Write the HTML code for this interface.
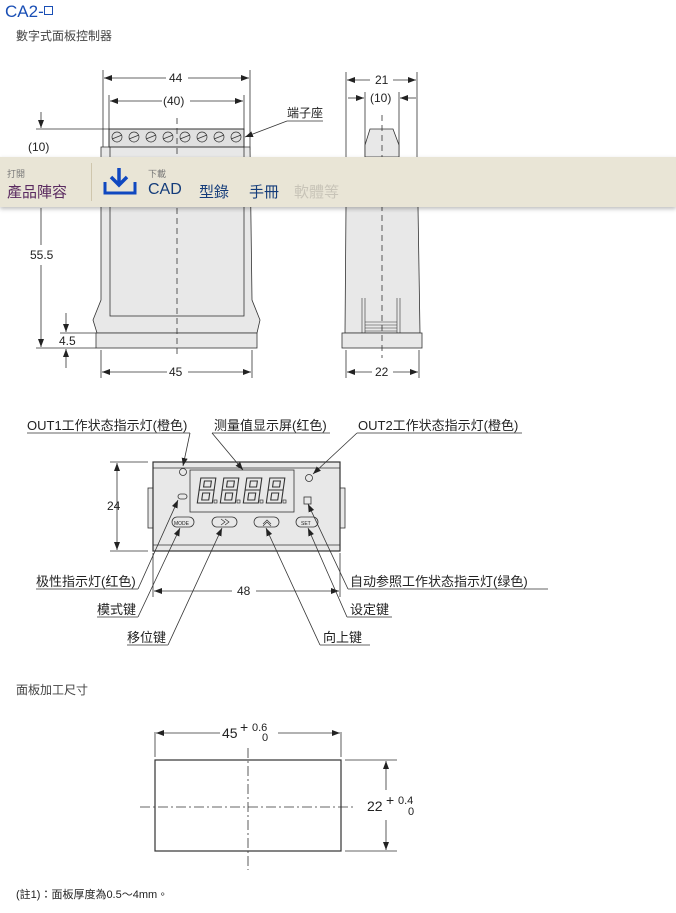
<!DOCTYPE html>
<html><head><meta charset="utf-8"><style>
body{margin:0;width:676px;height:913px;background:#fff;overflow:hidden;position:relative;font-family:"Liberation Sans","Noto Sans CJK TC",sans-serif}
.t{position:absolute;white-space:nowrap}
</style></head><body>
<div class="t" style="left:5px;top:2px;font-size:17px;color:#1a4fb5;">CA2-<span style="font-size:11px;border:1px solid #1a4fb5;display:inline-block;width:7px;height:7px;vertical-align:2px"></span></div>
<div class="t" style="left:16px;top:27px;font-size:12px;color:#444;">數字式面板控制器</div>
<div class="t" style="left:16px;top:681px;font-size:12px;color:#444;">面板加工尺寸</div>
<div class="t" style="left:16px;top:886px;font-size:11px;color:#222;">(註1)：面板厚度為0.5～4mm。</div>

<svg width="676" height="913" style="position:absolute;left:0;top:0" font-family="Liberation Sans, Noto Sans CJK SC, sans-serif" font-size="12" fill="#222">
<defs><marker id="a" markerWidth="8" markerHeight="6" refX="8" refY="3" orient="auto-start-reverse" markerUnits="userSpaceOnUse"><path d="M0,0L8,3L0,6z" fill="#222"/></marker></defs>
<g stroke="#333" stroke-width="0.8" fill="none">
<!-- front view -->
<line x1="103" y1="70" x2="103" y2="150"/><line x1="250" y1="70" x2="250" y2="150"/>
<line x1="109" y1="95" x2="109" y2="129"/><line x1="244" y1="95" x2="244" y2="129"/>
<line x1="104" y1="78" x2="166" y2="78" marker-start="url(#a)"/><line x1="188" y1="78" x2="249" y2="78" marker-end="url(#a)"/>
<line x1="110" y1="101" x2="162" y2="101" marker-start="url(#a)"/><line x1="190" y1="101" x2="243" y2="101" marker-end="url(#a)"/>
<path d="M101,147 L101,300 L93,320 L97,333 L257,333 L260,320 L252,300 L250,147 Z" fill="#e8e8e8" stroke="#333"/>
<rect x="110" y="147" width="134" height="169" fill="#e8e8e8"/>
<rect x="96" y="333" width="161" height="15" fill="#e8e8e8"/>
<rect x="109" y="129" width="135" height="18" fill="#e0e0e0" stroke-width="1"/>
<g stroke-width="0.7">
<circle cx="117" cy="137" r="5"/><circle cx="134" cy="137" r="5"/><circle cx="151" cy="137" r="5"/><circle cx="168" cy="137" r="5"/><circle cx="185" cy="137" r="5"/><circle cx="202" cy="137" r="5"/><circle cx="219" cy="137" r="5"/><circle cx="236" cy="137" r="5"/>
<path d="M112,139L122,135M129,139L139,135M146,139L156,135M163,139L173,135M180,139L190,135M197,139L207,135M214,139L224,135M231,139L241,135"/></g>
<line x1="177" y1="118" x2="177" y2="355" stroke-dasharray="6,4"/>
<line x1="36" y1="129" x2="109" y2="129"/>
<line x1="41" y1="112" x2="41" y2="128" marker-end="url(#a)"/>
<line x1="41" y1="208" x2="41" y2="245"/><line x1="41" y1="265" x2="41" y2="347" marker-end="url(#a)"/>
<line x1="60" y1="333" x2="96" y2="333"/><line x1="36" y1="348" x2="96" y2="348"/>
<line x1="66" y1="313" x2="66" y2="332" marker-end="url(#a)"/><line x1="66" y1="368" x2="66" y2="349" marker-end="url(#a)"/>
<line x1="101" y1="350" x2="101" y2="378"/><line x1="252" y1="350" x2="252" y2="378"/>
<line x1="102" y1="372" x2="167" y2="372" marker-start="url(#a)"/><line x1="188" y1="372" x2="251" y2="372" marker-end="url(#a)"/>
<path d="M287,121L323,121"/><line x1="287" y1="121" x2="245" y2="137" marker-end="url(#a)"/>
<!-- side view -->
<line x1="346" y1="72" x2="346" y2="157"/><line x1="417" y1="72" x2="417" y2="157"/>
<line x1="365" y1="92" x2="365" y2="157"/><line x1="399" y1="92" x2="399" y2="157"/>
<line x1="347" y1="80" x2="370" y2="80" marker-start="url(#a)"/><line x1="393" y1="80" x2="416" y2="80" marker-end="url(#a)"/>
<line x1="348" y1="98" x2="364" y2="98" marker-end="url(#a)"/><line x1="416" y1="98" x2="400" y2="98" marker-end="url(#a)"/>
<path d="M370,129L393,129L399,145L399,157L365,157L365,145Z" fill="#e8e8e8"/>
<path d="M346,207L345,333L420,333L418,207" fill="#e8e8e8"/>
<rect x="342" y="333" width="80" height="15" fill="#e8e8e8"/>
<path d="M362,333L362,298M365,333L365,298M397,333L397,298M400,333L400,298M365,322L397,322M365,325L397,325M365,328L397,328M365,331L397,331" stroke-width="0.6"/>
<line x1="382" y1="115" x2="382" y2="358" stroke-dasharray="6,4"/>
<line x1="346" y1="350" x2="346" y2="378"/><line x1="419" y1="350" x2="419" y2="378"/>
<line x1="347" y1="372" x2="372" y2="372" marker-start="url(#a)"/><line x1="393" y1="372" x2="418" y2="372" marker-end="url(#a)"/>
<!-- panel -->
<rect x="148" y="488" width="6" height="40" fill="#e8e8e8"/><rect x="339" y="488" width="6" height="40" fill="#e8e8e8"/>
<rect x="153" y="462" width="187" height="89" fill="#e8e8e8" stroke-width="1.2"/>
<line x1="153" y1="468" x2="340" y2="468"/><line x1="153" y1="545" x2="340" y2="545"/>
<rect x="190" y="470" width="104" height="42"/>
<circle cx="183" cy="472" r="3.5"/><rect x="178" y="494" width="9" height="5" rx="2.5"/>
<circle cx="309" cy="478" r="3.5"/><rect x="304" y="497" width="7" height="7"/>
<rect x="172" y="517" width="22" height="10" rx="5"/><rect x="212" y="517" width="25" height="10" rx="5"/><rect x="254" y="517" width="25" height="10" rx="5"/><rect x="296" y="517" width="22" height="10" rx="5"/>
<path d="M221,519L225,522L221,525M225,519L229,522L225,525M263,524L267,520L271,524M263,526L267,522L271,526" stroke-width="0.7"/>
<g transform="translate(69,0) skewX(-8)" stroke-width="1.1">
<path d="M199,478h15v12h-15zM199,490h15v13h-15zM203,481h7v6h-7zM203,493h7v7h-7z"/>
<path d="M222,478h15v12h-15zM222,490h15v13h-15zM226,481h7v6h-7zM226,493h7v7h-7z"/>
<path d="M245,478h15v12h-15zM245,490h15v13h-15zM249,481h7v6h-7zM249,493h7v7h-7z"/>
<path d="M268,478h15v12h-15zM268,490h15v13h-15zM272,481h7v6h-7zM272,493h7v7h-7z"/>
</g>
<g stroke-width="0.7"><rect x="214" y="500" width="3" height="3"/><rect x="237" y="500" width="3" height="3"/><rect x="260" y="500" width="3" height="3"/><rect x="283" y="500" width="3" height="3"/></g>
<line x1="110" y1="462" x2="148" y2="462"/><line x1="110" y1="551" x2="148" y2="551"/>
<line x1="117" y1="463" x2="117" y2="550" marker-start="url(#a)" marker-end="url(#a)"/>
<line x1="153" y1="553" x2="153" y2="597"/><line x1="340" y1="553" x2="340" y2="597"/>
<line x1="154" y1="591" x2="232" y2="591" marker-start="url(#a)"/><line x1="256" y1="591" x2="339" y2="591" marker-end="url(#a)"/>
<!-- leaders -->
<path d="M27,433L190,433"/><line x1="190" y1="433" x2="183" y2="466" marker-end="url(#a)"/>
<path d="M212,433L330,433"/><line x1="212" y1="433" x2="243" y2="470" marker-end="url(#a)"/>
<path d="M357,433L522,433"/><line x1="357" y1="433" x2="313" y2="474" marker-end="url(#a)"/>
<path d="M36,589L138,589"/><line x1="138" y1="589" x2="178" y2="500" marker-end="url(#a)"/>
<path d="M97,617L138,617"/><line x1="138" y1="617" x2="180" y2="528" marker-end="url(#a)"/>
<path d="M127,645L168,645"/><line x1="168" y1="645" x2="222" y2="528" marker-end="url(#a)"/>
<path d="M320,645L370,645"/><line x1="320" y1="645" x2="266" y2="528" marker-end="url(#a)"/>
<path d="M347,617L392,617"/><line x1="347" y1="617" x2="308" y2="528" marker-end="url(#a)"/>
<path d="M348,589L548,589"/><line x1="348" y1="589" x2="308" y2="504" marker-end="url(#a)"/>
<!-- cutout -->
<rect x="155" y="760" width="186" height="91" stroke-width="1.2"/>
<line x1="155" y1="732" x2="155" y2="757"/><line x1="341" y1="732" x2="341" y2="757"/>
<line x1="156" y1="733" x2="220" y2="733" marker-start="url(#a)"/><line x1="278" y1="733" x2="340" y2="733" marker-end="url(#a)"/>
<line x1="345" y1="760" x2="397" y2="760"/><line x1="345" y1="851" x2="397" y2="851"/>
<line x1="386" y1="761" x2="386" y2="790" marker-start="url(#a)"/><line x1="386" y1="820" x2="386" y2="850" marker-end="url(#a)"/>
<line x1="248" y1="748" x2="248" y2="870" stroke-dasharray="10,3,2,3"/>
<line x1="140" y1="807" x2="353" y2="807" stroke-dasharray="10,3,2,3"/>
</g>
<g font-size="12">
<text x="169" y="82">44</text><text x="163" y="105">(40)</text><text x="287" y="117">端子座</text>
<text x="28" y="151">(10)</text><text x="30" y="259">55.5</text><text x="59" y="345">4.5</text><text x="169" y="376">45</text>
<text x="375" y="84">21</text><text x="370" y="102">(10)</text><text x="375" y="376">22</text>
<text x="27" y="430" font-size="13">OUT1工作状态指示灯(橙色)</text>
<text x="214" y="430" font-size="13">测量值显示屏(红色)</text>
<text x="358" y="430" font-size="13">OUT2工作状态指示灯(橙色)</text>
<text x="107" y="510">24</text><text x="237" y="595">48</text>
<text x="36" y="586" font-size="13">极性指示灯(红色)</text>
<text x="97" y="614" font-size="13">模式键</text>
<text x="127" y="642" font-size="13">移位键</text>
<text x="323" y="642" font-size="13">向上键</text>
<text x="350" y="614" font-size="13">设定键</text>
<text x="350" y="586" font-size="13">自动参照工作状态指示灯(绿色)</text>
<text x="174" y="525" font-size="5">MODE</text><text x="301" y="525" font-size="5">SET</text>
<text x="222" y="738" font-size="14">45</text><text x="240" y="732" font-size="14">+</text><text x="252" y="731" font-size="11">0.6</text><text x="262" y="741" font-size="11">0</text>
<text x="367" y="811" font-size="14">22</text><text x="386" y="805" font-size="14">+</text><text x="398" y="804" font-size="11">0.4</text><text x="408" y="815" font-size="11">0</text>
</g>
</svg>

<div style="position:absolute;left:0;top:157px;width:676px;height:50px;background:#e9e5d6;box-shadow:0 2px 4px rgba(0,0,0,0.25)">
<div class="t" style="left:7px;top:10px;font-size:9px;color:#777">打開</div>
<div class="t" style="left:7px;top:24px;font-size:15px;color:#5a2a60">產品陣容</div>
<div style="position:absolute;left:91px;top:6px;width:1px;height:38px;background:#cfc6ad"></div>
<svg style="position:absolute;left:103px;top:11px" width="34" height="28"><path d="M16,0V16M8,9L16,17L24,9" stroke="#1048c0" stroke-width="3.5" fill="none"/><path d="M2,14V25H32V14" stroke="#1048c0" stroke-width="3" fill="none"/></svg>
<div class="t" style="left:148px;top:10px;font-size:9px;color:#777">下載</div>
<div class="t" style="left:148px;top:24px;font-size:16px;color:#143c7a">CAD</div>
<div class="t" style="left:199px;top:24px;font-size:15px;color:#143c7a">型錄</div>
<div class="t" style="left:249px;top:24px;font-size:15px;color:#143c7a">手冊</div>
<div class="t" style="left:294px;top:24px;font-size:15px;color:#c8c4b8">軟體等</div>
</div>
</body></html>
